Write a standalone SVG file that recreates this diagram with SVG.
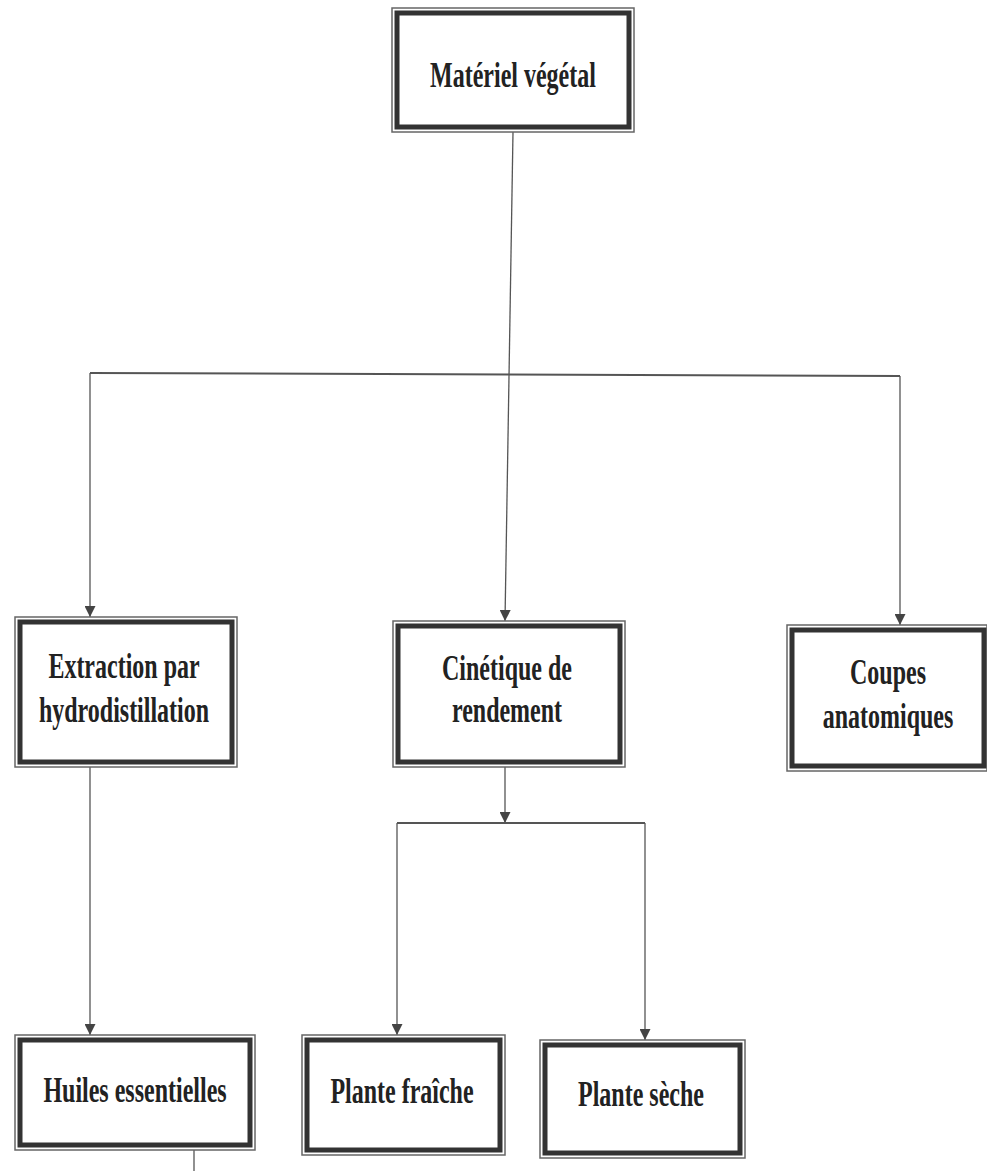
<svg xmlns="http://www.w3.org/2000/svg" width="987" height="1171" viewBox="0 0 987 1171">
<style>
.outer{fill:none;stroke:#666;stroke-width:1.5}
.inner{fill:#fff;stroke:#333;stroke-width:5}
.lbl{font-family:"Liberation Serif","Times New Roman",serif;font-weight:bold;font-size:24px;fill:#222;text-anchor:middle}
.ln{fill:none;stroke:#555;stroke-width:1.3}
.hl{fill:none;stroke:#555;stroke-width:2}
</style>
<defs>
<marker id="ah" viewBox="0 0 10 10" refX="10" refY="5" markerWidth="12" markerHeight="11" markerUnits="userSpaceOnUse" orient="auto">
<path d="M0,0 L10,5 L0,10 Z" fill="#444"/>
</marker>
</defs>
<rect width="987" height="1171" fill="#fff"/>
<g id="connectors">
<line class="ln" x1="513" y1="132" x2="505" y2="621" marker-end="url(#ah)"/>
<line class="hl" x1="90" y1="373" x2="900" y2="376"/>
<line class="ln" x1="90" y1="373" x2="90" y2="617" marker-end="url(#ah)"/>
<line class="ln" x1="900" y1="376" x2="900" y2="625" marker-end="url(#ah)"/>
<line class="ln" x1="505" y1="767" x2="505" y2="823" marker-end="url(#ah)"/>
<line class="hl" x1="397" y1="823" x2="645" y2="823"/>
<line class="ln" x1="397" y1="823" x2="397" y2="1035" marker-end="url(#ah)"/>
<line class="ln" x1="645" y1="823" x2="645" y2="1040" marker-end="url(#ah)"/>
<line class="ln" x1="90" y1="767" x2="90" y2="1035" marker-end="url(#ah)"/>
<line class="ln" x1="194" y1="1150" x2="194" y2="1171"/>
</g>
<g id="n1">
<rect class="outer" x="392" y="8" width="242" height="124"/>
<rect class="inner" x="397" y="13" width="232" height="114"/>
<text class="lbl" transform="translate(513,87) scale(1,1.5)">Matériel végétal</text>
</g>
<g id="n2">
<rect class="outer" x="15" y="617" width="222" height="150"/>
<rect class="inner" x="20" y="622" width="212" height="140"/>
<text class="lbl" transform="translate(124,678) scale(1,1.5)">Extraction par</text>
<text class="lbl" transform="translate(124,722) scale(1,1.5)">hydrodistillation</text>
</g>
<g id="n3">
<rect class="outer" x="393" y="621" width="232" height="146"/>
<rect class="inner" x="398" y="626" width="222" height="136"/>
<text class="lbl" transform="translate(507,680) scale(1,1.5)">Cinétique de</text>
<text class="lbl" transform="translate(507,722) scale(1,1.5)">rendement</text>
</g>
<g id="n4">
<rect class="outer" x="787" y="625" width="200" height="146"/>
<rect class="inner" x="792" y="630" width="192" height="136"/>
<text class="lbl" transform="translate(888,684) scale(1,1.5)">Coupes</text>
<text class="lbl" transform="translate(888,728) scale(1,1.5)">anatomiques</text>
</g>
<g id="n5">
<rect class="outer" x="15" y="1035" width="240" height="115"/>
<rect class="inner" x="20" y="1040" width="230" height="105"/>
<text class="lbl" transform="translate(135,1102) scale(1,1.5)">Huiles essentielles</text>
</g>
<g id="n6">
<rect class="outer" x="302" y="1035" width="203" height="120"/>
<rect class="inner" x="307" y="1040" width="193" height="110"/>
<text class="lbl" transform="translate(402,1103) scale(1,1.5)">Plante fraîche</text>
</g>
<g id="n7">
<rect class="outer" x="540" y="1040" width="205" height="118"/>
<rect class="inner" x="545" y="1045" width="195" height="108"/>
<text class="lbl" transform="translate(641,1106) scale(1,1.5)">Plante sèche</text>
</g>
</svg>
